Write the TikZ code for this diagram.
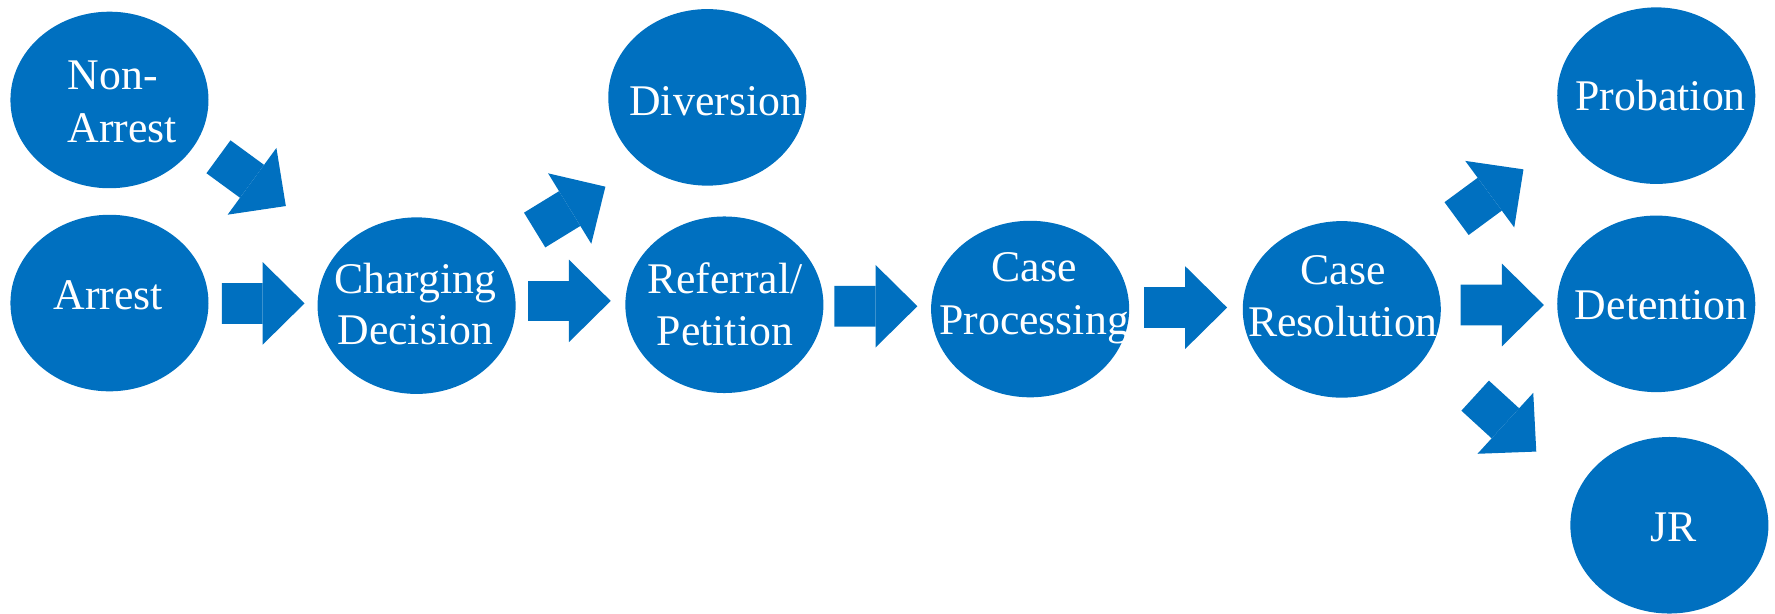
\documentclass[tikz,border=0pt]{standalone}
\usepackage{fontspec}
\setmainfont{Liberation Serif}
\usetikzlibrary{shapes.geometric,arrows.meta}
\definecolor{myblue}{RGB}{0,112,192}
\begin{document}
\begin{tikzpicture}[x=0.02cm,y=-0.02cm,
  blob/.style={ellipse, fill=myblue, minimum width=3.5cm, minimum height=3.12cm, inner sep=0pt},
  lbl/.style={font=\fontsize{22}{26}\selectfont, text=white, inner sep=0pt},
  blockarrow/.style={draw=myblue, line width=0.72cm, line cap=butt,
    -{Triangle[width=1.46cm,length=0.74cm,line width=0pt]}}]
\useasboundingbox (0,0) rectangle (1568,542);
% ellipses
\node[blob] (nonarrest)  at (96.7,88.3) {};
\node[blob] (arrest)     at (96.7,267.7) {};
\node[blob] (charging)   at (368,270) {};
\node[blob] (diversion)  at (624.8,86) {};
\node[blob] (referral)   at (639.9,269.2) {};
\node[blob] (processing) at (910,273) {};
\node[blob] (resolution) at (1185.3,273.3) {};
\node[blob] (probation)  at (1463.1,84.5) {};
\node[blob] (detention)  at (1463.1,268.4) {};
\node[blob] (jr)         at (1474.7,464) {};
% labels
\node[lbl, anchor=base west] (nonarrest-t1) at (59.5,78.9) {Non-};
\node[lbl, anchor=base west] (nonarrest-t2) at (59.5,126) {Arrest};
\node[lbl, anchor=base] (arrest-t) at (95.5,273.3) {Arrest};
\node[lbl, anchor=base] (charging-t1) at (366.8,259.1) {Charging};
\node[lbl, anchor=base] (charging-t2) at (366.8,303.9) {Decision};
\node[lbl, anchor=base] (diversion-t) at (632.2,102.2) {Diversion};
\node[lbl, anchor=base] (referral-t1) at (640.3,259.1) {Referral/};
\node[lbl, anchor=base] (referral-t2) at (640.3,305.4) {Petition};
\node[lbl, anchor=base] (processing-t1) at (913.5,248.8) {Case};
\node[lbl, anchor=base] (processing-t2) at (913.5,295.3) {Processing};
\node[lbl, anchor=base] (resolution-t1) at (1186.3,251.1) {Case};
\node[lbl, anchor=base] (resolution-t2) at (1186.3,297.2) {Resolution};
\node[lbl, anchor=base] (probation-t) at (1467,98) {Probation};
\node[lbl, anchor=base] (detention-t) at (1467.5,282.3) {Detention};
\node[lbl, anchor=base] (jr-t) at (1478.5,478) {JR};
% block arrows
\draw[blockarrow] ([shift={(99.3,0.3)}]arrest.center) -- ([shift={(-99,-2)}]charging.center);
\draw[blockarrow] ([shift={(96.3,50.2)}]nonarrest.center) -- ([shift={(-115.5,-88)}]charging.center);
\draw[blockarrow] ([shift={(98.5,-4.2)}]charging.center) -- ([shift={(-100.4,-3.4)}]referral.center);
\draw[blockarrow] ([shift={(104.3,-66.8)}]charging.center) -- ([shift={(-90,78.9)}]diversion.center);
\draw[blockarrow] ([shift={(97.1,1.3)}]referral.center) -- ([shift={(-99.6,-2.5)}]processing.center);
\draw[blockarrow] ([shift={(101,-1.3)}]processing.center) -- ([shift={(-101.3,-1.6)}]resolution.center);
\draw[blockarrow] ([shift={(104.9,-3.9)}]resolution.center) -- ([shift={(-99.3,1)}]detention.center);
\draw[blockarrow] ([shift={(101.4,-80.2)}]resolution.center) -- ([shift={(-117.3,65.1)}]probation.center);
\draw[blockarrow] ([shift={(117.8,76.2)}]resolution.center) -- ([shift={(-117.6,-65.1)}]jr.center);
\end{tikzpicture}
\end{document}
